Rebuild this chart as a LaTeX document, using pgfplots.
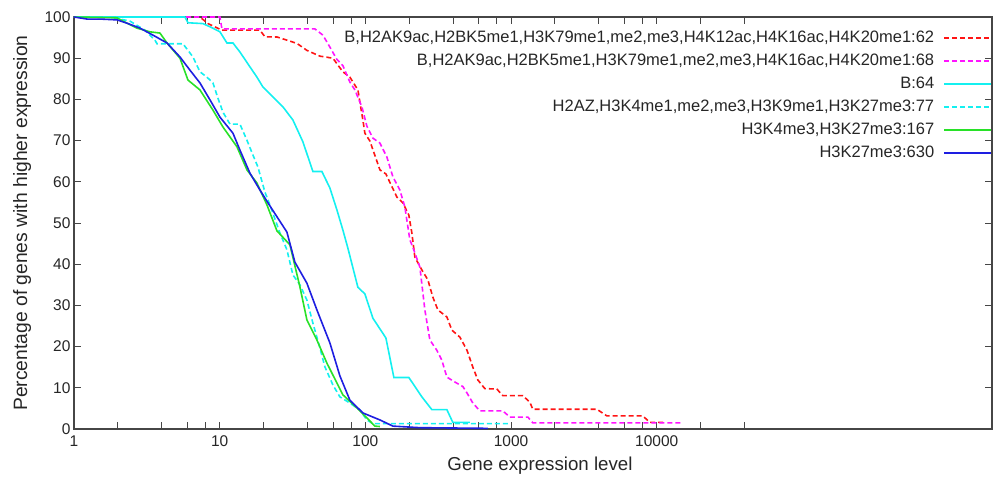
\documentclass[border=0pt]{standalone}
\usepackage{fontspec}
\setmainfont{Liberation Sans}
\usepackage{pgfplots}
\pgfplotsset{compat=1.18}

\definecolor{cRed}{RGB}{255,20,20}
\definecolor{cMag}{RGB}{255,20,255}
\definecolor{cCyan}{RGB}{20,240,240}
\definecolor{cGreen}{RGB}{40,225,40}
\definecolor{cBlue}{RGB}{30,30,225}
\definecolor{cAxis}{RGB}{70,70,70}

\begin{document}
\begin{tikzpicture}
\begin{axis}[
  scale only axis,
  width=918pt, height=412pt,
  xmode=log, log basis x=10,
  xmin=1, xmax=2e6, ymin=0, ymax=100,
  xtick={1,10,100,1000,10000},
  xticklabels={1,10,100,1000,10000},
  minor xtick={2,4,6,8,20,40,60,80,200,400,600,800,2000,4000,6000,8000,20000,40000},
  ytick={0,10,20,30,40,50,60,70,80,90,100},
  tick align=inside,
  major tick length=7pt, minor tick length=7pt,
  axis line style={draw=cAxis, line width=1.3pt},
  every tick/.style={cAxis, line width=1pt},
  tick label style={font=\fontsize{15.5}{18}\selectfont, text=black!85},
  /pgf/number format/assume math mode=true,
  xticklabel style={yshift=-3pt},
  xlabel={Gene expression level},
  ylabel={Percentage of genes with higher expression},
  every axis x label/.style={at={(axis description cs:0.5076,-0.0898)}, anchor=center,
    font=\fontsize{18.7}{22}\selectfont, text=black!85},
  every axis y label/.style={at={(axis description cs:-0.0566,0.5)}, rotate=90, anchor=center,
    font=\fontsize{19.3}{22}\selectfont, text=black!85},
  legend plot pos=right,
  legend cell align=right,
  legend image code/.code={\draw[#1] (0pt,0pt) -- (47pt,0pt);},
  legend style={at={(1,1)}, anchor=north east, yshift=-12pt, draw=none, fill=none,
    font=\fontsize{16.5}{19}\selectfont, text=black!85, row sep=6pt, column sep=7pt, inner sep=0pt},
  every axis plot/.append style={line width=1.6pt},
]

% B,H2AK9ac,...,H4K20me1:62
\addplot[cRed, dash pattern=on 5pt off 3pt] coordinates {
(1,100) (7.32,100) (8.31,98.4) (10.36,96.8) (18.89,96.8) (20.44,95.2) (24.71,95.15)
(33.89,93.6) (39.68,91.9) (48.73,90.5) (59.84,90.0) (70.07,86.7) (78.29,85.4)
(88.83,82.3) (96.12,75.0) (99.2,71.8) (107.4,69.9) (125.8,62.9) (138.3,61.9)
(164.5,56.3) (180.8,54.9) (198.8,51.9) (208.4,47.6) (218.6,41.7) (244.2,38.6)
(268.5,36.2) (290.5,32.0) (314.5,28.9) (362.5,27.2) (392.3,24.0) (445.1,22.3)
(497.2,19.2) (546.5,15.0) (591.5,11.9) (660.6,9.8) (798.3,9.7) (877.8,8.1)
(1204,8.1) (1345,6.5) (1410,4.8) (3876,4.8) (4539,3.2) (8015,3.2) (8954,1.6) (11345,1.6)
};
\addlegendentry{B,H2AK9ac,H2BK5me1,H3K79me1,me2,me3,H4K12ac,H4K16ac,H4K20me1:62}

% B,H2AK9ac,...:68
\addplot[cMag, dash pattern=on 5pt off 3pt] coordinates {
(1,100) (10.04,100) (10.36,97.1) (45.03,97.1) (51.09,95.6) (57.06,92.7) (63.74,89.7)
(70.07,88.2) (78.29,84.2) (84.72,82.3) (94.62,78.2) (102.4,73.5) (112.6,70.6)
(125.8,69.4) (140.5,66.0) (154.5,61.2) (172.5,58.0) (186.6,53.9) (202.0,45.9)
(211.8,44.1) (236.6,39.3) (256.0,28.9) (277.1,21.6) (309.5,19.1) (334.9,16.7)
(362.5,12.6) (411.3,11.4) (466.7,10.3) (497.2,8.8) (546.5,6.3) (610.5,4.4)
(877.8,4.4) (980.4,2.9) (1303,2.9) (1410,1.5) (15079,1.5)
};
\addlegendentry{B,H2AK9ac,H2BK5me1,H3K79me1,me2,me3,H4K16ac,H4K20me1:68}

% B:64
\addplot[cCyan] coordinates {
(1,100) (5.775,100) (6.056,98.6) (7.676,98.4) (8.849,97.4) (10.04,96.4) (11.21,93.7)
(12.33,93.7) (13.77,91.5) (16.13,87.9) (18.02,85.4) (19.81,83.0) (23.20,80.6)
(27.16,78.2) (31.81,75.0) (37.26,69.7) (43.63,62.5) (50.29,62.5) (57.06,58.5)
(63.74,53.2) (70.07,48.3) (75.85,43.9) (88.83,34.4) (99.2,32.8) (112.6,26.9)
(138.3,22.1) (156.9,12.5) (198.8,12.5) (244.2,7.8) (286.0,4.7) (362.5,4.7)
(398.5,1.6) (521.2,1.6)
};
\addlegendentry{B:64}

% H2AZ,...:77
\addplot[cCyan, dash pattern=on 5pt off 3pt] coordinates {
(1,100) (1.766,100) (2.423,99.0) (3.070,96.8) (3.595,94.4) (3.711,93.5) (5.596,93.5)
(6.554,90.3) (7.320,86.7) (8.177,85.4) (8.990,84.0) (9.727,80.3) (10.53,76.9)
(11.76,74.0) (13.77,74.0) (15.38,70.1) (16.91,66.5) (18.30,63.6) (20.44,57.5)
(22.12,54.4) (25.91,47.6) (28.93,43.5) (31.81,37.4) (35.53,35.0) (39.68,31.3)
(43.63,25.7) (48.73,19.7) (52.73,15.1) (59.84,10.7) (66.83,7.8) (78.29,6.3)
(91.69,4.6) (102.4,2.2) (112.6,1.3) (980.4,1.3)
};
\addlegendentry{H2AZ,H3K4me1,me2,me3,H3K9me1,H3K27me3:77}

% H3K4me3,H3K27me3:167
\addplot[cGreen] coordinates {
(1,100) (1.972,99.8) (2.310,98.5) (2.705,97.3) (3.322,96.4) (3.890,96.1) (4.347,93.7)
(5.338,90.0) (6.056,84.7) (7.320,82.3) (8.990,77.4) (10.53,73.3) (13.14,68.5)
(15.38,62.9) (18.02,59.7) (21.10,54.4) (24.71,48.1) (30.34,44.7) (35.53,34.5)
(39.68,26.5) (46.48,21.6) (54.42,16.0) (70.07,8.3) (87.44,5.1) (102.4,2.7)
(116.2,0.7) (125.8,0.6)
};
\addlegendentry{H3K4me3,H3K27me3:167}

% H3K27me3:630
\addplot[cBlue] coordinates {
(1,100) (1.228,99.5) (1.508,99.5) (1.972,99.3) (2.310,98.5) (2.837,97.3) (3.483,95.6)
(4.347,93.7) (5.338,90.3) (6.250,87.1) (7.320,84.0) (8.573,79.9) (10.04,75.7)
(12.33,71.8) (13.77,67.7) (16.13,62.1) (18.89,58.0) (21.43,54.9) (28.93,47.8)
(32.83,40.5) (39.68,35.4) (46.48,28.9) (57.06,20.9) (66.83,12.9) (78.29,7.0)
(96.12,3.9) (125.8,2.2) (154.5,0.7) (236.6,0.32) (692.6,0.16)
};
\addlegendentry{H3K27me3:630}

\end{axis}
\pgfresetboundingbox
\path ([shift={(-74pt,-48pt)}]current axis.south west) rectangle ([shift={(2pt,17pt)}]current axis.north east);
\end{tikzpicture}
\end{document}
